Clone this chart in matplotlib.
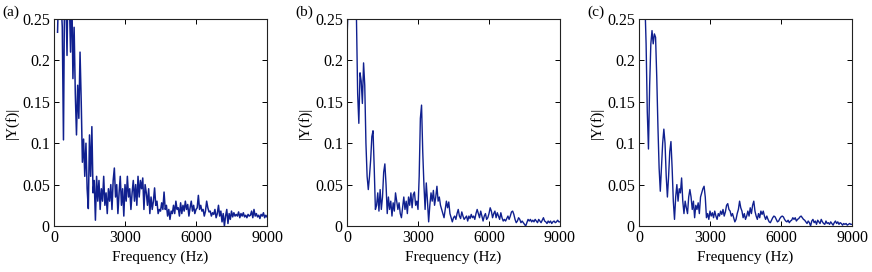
import numpy as np
import matplotlib
matplotlib.use('Agg')
import matplotlib.pyplot as plt

# -----------------------------
# Data (amplitude spectra, 50 Hz steps)
# -----------------------------
STEP = 50
START_A = 150
START_B = 0
START_C = 0

amp_a = [
    0.234, 0.29, 0.31, 0.27, 0.24, 0.104, 0.30, 0.28, 0.206, 0.32,    # 150-600
    0.27, 0.21, 0.29, 0.178, 0.24, 0.16, 0.11, 0.17, 0.13, 0.21,      # 650-1100
    0.15, 0.077, 0.105, 0.06, 0.10, 0.045, 0.021, 0.11, 0.06, 0.12,   # 1150-1600
    0.04, 0.055, 0.007, 0.06, 0.03, 0.055, 0.02, 0.045, 0.03, 0.06,   # 1650-2100
    0.025, 0.04, 0.015, 0.045, 0.03, 0.05, 0.02, 0.055, 0.07, 0.035,  # 2150-2600
    0.05, 0.015, 0.04, 0.06, 0.025, 0.045, 0.012, 0.05, 0.03, 0.06,   # 2650-3100
    0.035, 0.045, 0.02, 0.04, 0.055, 0.03, 0.05, 0.025, 0.06, 0.035,  # 3150-3600
    0.055, 0.045, 0.058, 0.02, 0.05, 0.04, 0.025, 0.045, 0.015, 0.035, # 3650-4100
    0.02, 0.03, 0.046, 0.025, 0.03, 0.015, 0.02, 0.018, 0.028, 0.02,  # 4150-4600
    0.041, 0.02, 0.025, 0.012, 0.02, 0.008, 0.018, 0.015, 0.025, 0.015, # 4650-5100
    0.03, 0.02, 0.022, 0.012, 0.028, 0.015, 0.025, 0.018, 0.03, 0.02, # 5150-5600
    0.026, 0.012, 0.022, 0.03, 0.018, 0.025, 0.015, 0.02, 0.022, 0.037, # 5650-6100
    0.02, 0.025, 0.018, 0.02, 0.012, 0.018, 0.03, 0.022, 0.017, 0.018, # 6150-6600
    0.012, 0.016, 0.014, 0.02, 0.01, 0.015, 0.025, 0.012, 0.018, 0.005, # 6650-7100
    0.015, 0.0, 0.012, 0.02, 0.003, 0.015, 0.008, 0.018, 0.011, 0.016, # 7150-7600
    0.012, 0.014, 0.012, 0.017, 0.01, 0.015, 0.012, 0.016, 0.011, 0.013, # 7650-8100
    0.01, 0.014, 0.012, 0.013, 0.018, 0.01, 0.02, 0.012, 0.015, 0.011, # 8150-8600
    0.013, 0.009, 0.014, 0.012, 0.016, 0.01, 0.013, 0.011,             # 8650-9000
]

amp_b = [
    0.225, 0.27, 0.30, 0.29, 0.31, 0.30, 0.28, 0.27, 0.25, 0.16,      # 0-450
    0.124, 0.185, 0.175, 0.148, 0.197, 0.17, 0.10, 0.06, 0.044, 0.06, # 500-950
    0.08, 0.108, 0.115, 0.07, 0.02, 0.025, 0.04, 0.018, 0.044, 0.02,  # 1000-1450
    0.035, 0.065, 0.075, 0.05, 0.015, 0.035, 0.02, 0.03, 0.012, 0.028, # 1500-1950
    0.018, 0.04, 0.03, 0.02, 0.028, 0.015, 0.01, 0.022, 0.035, 0.02,  # 2000-2450
    0.03, 0.015, 0.035, 0.025, 0.04, 0.022, 0.038, 0.041, 0.025, 0.03, # 2500-2950
    0.02, 0.06, 0.13, 0.146, 0.09, 0.05, 0.02, 0.052, 0.03, 0.005,    # 3000-3450
    0.025, 0.04, 0.03, 0.043, 0.025, 0.035, 0.048, 0.03, 0.035, 0.025, # 3500-3950
    0.02, 0.015, 0.01, 0.02, 0.03, 0.022, 0.029, 0.015, 0.01, 0.005,  # 4000-4450
    0.01, 0.012, 0.008, 0.015, 0.02, 0.012, 0.009, 0.017, 0.012, 0.008, # 4500-4950
    0.01, 0.012, 0.006, 0.012, 0.009, 0.014, 0.01, 0.012, 0.008, 0.015, # 5000-5450
    0.02, 0.015, 0.01, 0.018, 0.012, 0.006, 0.012, 0.015, 0.008, 0.01, # 5500-5950
    0.015, 0.022, 0.018, 0.01, 0.015, 0.018, 0.01, 0.016, 0.012, 0.008, # 6000-6450
    0.016, 0.01, 0.006, 0.008, 0.006, 0.009, 0.012, 0.008, 0.012, 0.017, # 6500-6950
    0.018, 0.014, 0.008, 0.004, 0.006, 0.01, 0.008, 0.004, 0.006, 0.004, # 7000-7450
    0.002, 0.0, 0.004, 0.008, 0.006, 0.008, 0.005, 0.007, 0.005, 0.008, # 7500-7950
    0.006, 0.004, 0.008, 0.006, 0.004, 0.007, 0.01, 0.006, 0.005, 0.003, # 8000-8450
    0.006, 0.004, 0.006, 0.003, 0.005, 0.006, 0.004, 0.005, 0.007, 0.005, # 8500-8950
    0.005,                                                              # 9000
]

amp_c = [
    0.32, 0.31, 0.30, 0.30, 0.29, 0.27, 0.22, 0.138, 0.093, 0.17,     # 0-450
    0.22, 0.236, 0.22, 0.232, 0.228, 0.18, 0.12, 0.07, 0.042, 0.07,  # 500-950
    0.10, 0.117, 0.10, 0.06, 0.035, 0.06, 0.09, 0.102, 0.07, 0.03,   # 1000-1450
    0.008, 0.035, 0.05, 0.03, 0.045, 0.04, 0.058, 0.03, 0.015, 0.03, # 1500-1950
    0.022, 0.015, 0.035, 0.044, 0.035, 0.02, 0.03, 0.01, 0.025, 0.02, # 2000-2450
    0.028, 0.015, 0.035, 0.04, 0.045, 0.048, 0.035, 0.01, 0.015, 0.008, # 2500-2950
    0.018, 0.012, 0.016, 0.01, 0.018, 0.012, 0.008, 0.015, 0.012, 0.018, # 3000-3450
    0.014, 0.02, 0.012, 0.017, 0.025, 0.027, 0.02, 0.018, 0.012, 0.015, # 3500-3950
    0.01, 0.005, 0.008, 0.015, 0.02, 0.03, 0.022, 0.018, 0.01, 0.015, # 4000-4450
    0.008, 0.012, 0.018, 0.012, 0.022, 0.015, 0.025, 0.03, 0.018, 0.012, # 4500-4950
    0.008, 0.015, 0.01, 0.018, 0.014, 0.018, 0.012, 0.008, 0.012, 0.008, # 5000-5450
    0.005, 0.004, 0.007, 0.01, 0.012, 0.011, 0.008, 0.005, 0.006, 0.009, # 5500-5950
    0.011, 0.012, 0.011, 0.008, 0.006, 0.005, 0.007, 0.004, 0.006, 0.007, # 6000-6450
    0.01, 0.008, 0.01, 0.006, 0.008, 0.009, 0.011, 0.012, 0.01, 0.008, # 6500-6950
    0.007, 0.005, 0.003, 0.006, 0.004, 0.0, 0.006, 0.008, 0.004, 0.006, # 7000-7450
    0.002, 0.007, 0.005, 0.003, 0.008, 0.005, 0.003, 0.002, 0.006, 0.003, # 7500-7950
    0.004, 0.002, 0.005, 0.003, 0.001, 0.004, 0.006, 0.003, 0.005, 0.002, # 8000-8450
    0.004, 0.003, 0.001, 0.003, 0.002, 0.003, 0.001, 0.002, 0.003, 0.002, # 8500-8950
    0.002,                                                              # 9000
]

panel_labels = ['(a)', '(b)', '(c)']
x_ticks = [0, 3000, 6000, 9000]
x_tick_labels = ['0', '3000', '6000', '9000']
y_ticks = [0, 0.05, 0.1, 0.15, 0.2, 0.25]
y_tick_labels = ['0', '0.05', '0.1', '0.15', '0.2', '0.25']

LINE_COLOR = '#10208f'

plt.rcParams['font.family'] = ['Liberation Serif', 'DejaVu Serif']
plt.rcParams['font.size'] = 11

fig = plt.figure(figsize=(8.72, 2.72), dpi=100)

series = [(START_A, amp_a), (START_B, amp_b), (START_C, amp_c)]
lefts = [54, 347, 639]
widths = [1.1, 1.0, 1.0]

for i, (start, amp) in enumerate(series):
    ax = fig.add_axes([lefts[i] / 872, 46 / 272, 213 / 872, 207 / 272])
    freq = start + STEP * np.arange(len(amp))
    ax.plot(freq, amp, color=LINE_COLOR, lw=widths[i])
    ax.set_xlim(0, 9000)
    ax.set_ylim(0, 0.25)
    ax.set_xticks(x_ticks)
    ax.set_xticklabels(x_tick_labels)
    ax.set_yticks(y_ticks)
    ax.set_yticklabels(y_tick_labels)
    ax.tick_params(direction='in', top=True, right=True, length=3.5, width=0.7,
                   pad=3, labelsize=11.5)
    for sp in ax.spines.values():
        sp.set_linewidth(0.8)
        sp.set_color('#222222')
    ax.set_xlabel('Frequency (Hz)', labelpad=3)
    ax.set_ylabel('|Y(f)|', labelpad=2)
    fig.text((lefts[i] - 52) / 872, 1 - 12 / 272, panel_labels[i],
             ha='left', va='center', fontsize=11)

fig.savefig('out.png', dpi=100)
